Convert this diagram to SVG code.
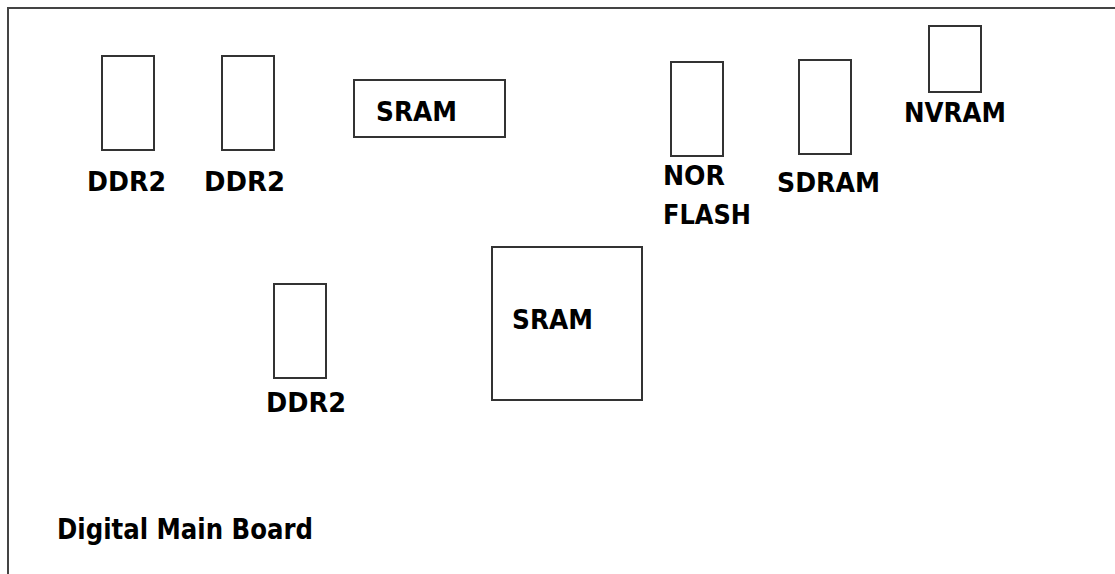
<svg xmlns="http://www.w3.org/2000/svg" width="1115" height="574" viewBox="0 0 1115 574">
<style>
.chip{fill:#fff;stroke:#333;stroke-width:2}
.lbl{font-family:"DejaVu Sans","Verdana",sans-serif;font-weight:bold;font-size:27px;fill:#000}
.title{font-family:"DejaVu Sans Condensed","DejaVu Sans",sans-serif;font-weight:bold;font-size:28px;fill:#000}
.frame{fill:none;stroke:#444;stroke-width:2}
</style>
<rect width="1115" height="574" fill="#fff"/>
<g id="board">
<path class="frame" d="M8,574 V8 H1115"/>
<text class="title" x="57" y="539" textLength="256" lengthAdjust="spacingAndGlyphs">Digital Main Board</text>
</g>
<g id="ddr2-1">
<rect class="chip" x="102" y="56" width="52" height="94"/>
<text class="lbl" x="87" y="191" textLength="79" lengthAdjust="spacingAndGlyphs">DDR2</text>
</g>
<g id="ddr2-2">
<rect class="chip" x="222" y="56" width="52" height="94"/>
<text class="lbl" x="204" y="191" textLength="81" lengthAdjust="spacingAndGlyphs">DDR2</text>
</g>
<g id="sram-1">
<rect class="chip" x="354" y="80" width="151" height="57"/>
<text class="lbl" x="376" y="121" textLength="81" lengthAdjust="spacingAndGlyphs">SRAM</text>
</g>
<g id="nor-flash">
<rect class="chip" x="671" y="62" width="52" height="94"/>
<text class="lbl" x="663" y="185" textLength="62" lengthAdjust="spacingAndGlyphs">NOR</text>
<text class="lbl" x="663" y="224" textLength="88" lengthAdjust="spacingAndGlyphs">FLASH</text>
</g>
<g id="sdram">
<rect class="chip" x="799" y="60" width="52" height="94"/>
<text class="lbl" x="777" y="192" textLength="103" lengthAdjust="spacingAndGlyphs">SDRAM</text>
</g>
<g id="nvram">
<rect class="chip" x="929" y="26" width="52" height="66"/>
<text class="lbl" x="904" y="122" textLength="102" lengthAdjust="spacingAndGlyphs">NVRAM</text>
</g>
<g id="ddr2-3">
<rect class="chip" x="274" y="284" width="52" height="94"/>
<text class="lbl" x="266" y="412" textLength="80" lengthAdjust="spacingAndGlyphs">DDR2</text>
</g>
<g id="sram-2">
<rect class="chip" x="492" y="247" width="150" height="153"/>
<text class="lbl" x="512" y="329" textLength="81" lengthAdjust="spacingAndGlyphs">SRAM</text>
</g>
<g id="connectors"></g>
</svg>
